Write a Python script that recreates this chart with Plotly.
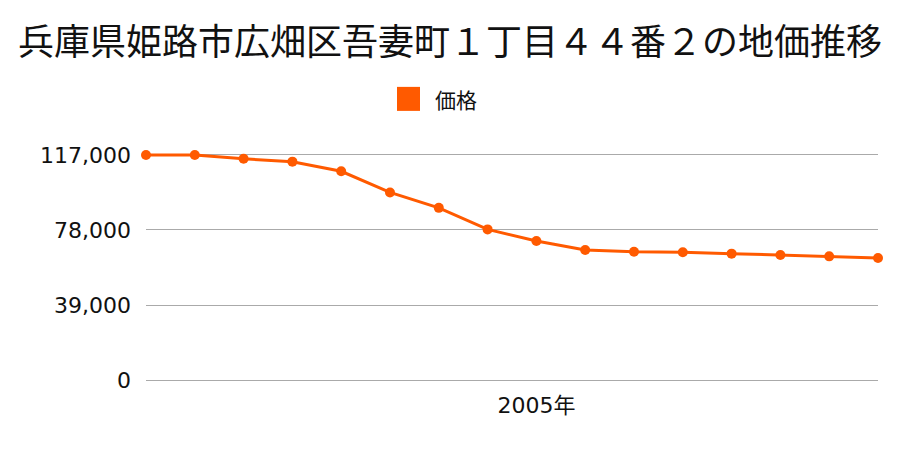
import plotly.graph_objects as go

years = list(range(1997, 2013))
prices = [117000, 117000, 115000, 113500, 108500, 97500, 89500, 78300,
          72300, 67600, 66700, 66400, 65700, 65000, 64300, 63400]
y_ticks = [0, 39000, 78000, 117000]
y_tick_labels = ["0", "39,000", "78,000", "117,000"]
x_ticks = [2005]
x_tick_labels = ["2005年"]
series_name = "価格"
title = "兵庫県姫路市広畑区吾妻町１丁目４４番２の地価推移"

color = "#FF5A00"
cjk = "Noto Sans CJK JP, sans-serif"
num = "DejaVu Sans, Noto Sans CJK JP, sans-serif"

fig = go.Figure()
fig.add_trace(go.Scatter(
    x=years, y=prices, mode="lines+markers", name=series_name,
    line=dict(color=color, width=3),
    marker=dict(color=color, size=10),
    cliponaxis=False, showlegend=False,
))

# plot area: value 0 at y=380px, 117000 at y=155px; range padded slightly so edge gridlines show
pad = 1000
px_per = 225 / 117000
fig.update_layout(
    width=900, height=450,
    margin=dict(l=146, r=22, t=155 - pad * px_per, b=70 - pad * px_per),
    paper_bgcolor="white", plot_bgcolor="white",
    font=dict(family=cjk, color="#111111"),
    title=dict(text=title, x=0.5, xanchor="center", y=1 - 42 / 450, yanchor="middle",
               font=dict(size=36, family=cjk, color="#111111")),
    showlegend=False,
)
fig.update_xaxes(range=[1997, 2012], tickvals=x_ticks, ticktext=x_tick_labels,
                 showgrid=False, zeroline=False, showline=False, ticks="",
                 tickfont=dict(size=22, family=num), ticklabelstandoff=8)
fig.update_yaxes(range=[-pad, 117000 + pad], tickvals=y_ticks, ticktext=y_tick_labels,
                 showgrid=True, gridcolor="#AAAAAA", gridwidth=1,
                 zeroline=False, showline=False, ticks="",
                 tickfont=dict(size=22, family=num), ticklabelstandoff=14)

# legend drawn as a swatch + label (paper coords relative to the plot area)
h = 450 - (155 - pad * px_per) - (70 - pad * px_per)
bottom = 380 + pad * px_per
fig.add_shape(type="rect", xref="paper", yref="paper",
              x0=(397 - 146) / 732, x1=(420 - 146) / 732,
              y0=(bottom - 111) / h, y1=(bottom - 87) / h,
              fillcolor=color, line=dict(width=0))
fig.add_annotation(text=series_name, xref="paper", yref="paper",
                   x=(433 - 146) / 732, y=(bottom - 99) / h,
                   xanchor="left", yanchor="middle", showarrow=False,
                   font=dict(size=21, family=cjk, color="#111111"))

fig.write_html("out.html")
